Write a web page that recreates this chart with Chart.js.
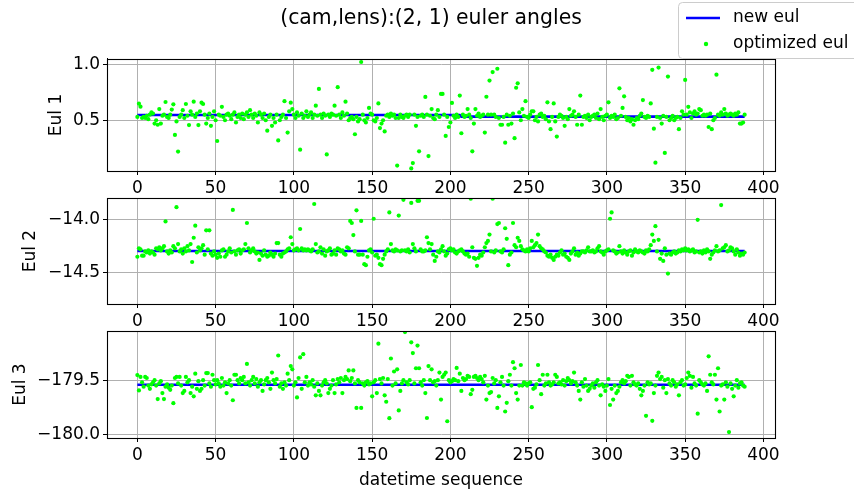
<!DOCTYPE html>
<html>
<head>
<meta charset="utf-8">
<script src="https://cdn.jsdelivr.net/npm/chart.js@4.4.1/dist/chart.umd.min.js"></script>
<style>
  html, body { margin: 0; padding: 0; background: #fff; }
  #wrap { position: relative; width: 854px; height: 495px; overflow: hidden; }
  canvas { position: absolute; left: 0; }
</style>
</head>
<body>
<div id="wrap">
  <canvas id="eul1" width="862" height="200" style="top:0px"></canvas>
  <canvas id="eul2" width="854" height="150" style="top:185px"></canvas>
  <canvas id="eul3" width="854" height="177" style="top:318px"></canvas>
</div>
<script>
/* euler angle panels - new vs optimized */
const seqTicks = [0, 50, 100, 150, 200, 250, 300, 350, 400];
const eulNames = ['Eul 1', 'Eul 2', 'Eul 3'];
const eulTicks = [[0.5, 1.0], [-14.5, -14.0], [-180.0, -179.5]];
const eulTickLabels = [['0.5', '1.0'], ['\u221214.5', '\u221214.0'], ['\u2212180.0', '\u2212179.5']];

// new eul (piecewise constant, breakpoints)
const newEulX = [0, 206, 207, 388];
const newEul1 = [0.547, 0.547, 0.532, 0.532];
const newEul2 = [-14.295, -14.295, -14.295, -14.295];
const newEul3 = [-179.542, -179.542, -179.542, -179.542];

// optimized eul, one value per sequence index 0..388
const optEul1 = [
  0.53, 0.648, 0.621, 0.52, 0.53, 0.52, 0.54, 0.51, 0.55, 0.57,
  0.56, 0.47, 0.50, 0.46, 0.60, 0.47, 0.54, 0.55, 0.663, 0.53,
  0.52, 0.55, 0.595, 0.642, 0.369, 0.49, 0.22, 0.53, 0.55, 0.59,
  0.52, 0.645, 0.54, 0.457, 0.58, 0.55, 0.666, 0.53, 0.56, 0.457,
  0.58, 0.657, 0.645, 0.55, 0.47, 0.52, 0.56, 0.45, 0.53, 0.58,
  0.50, 0.315, 0.55, 0.54, 0.62, 0.53, 0.50, 0.55, 0.56, 0.54,
  0.51, 0.55, 0.57, 0.48, 0.53, 0.55, 0.52, 0.56, 0.51, 0.55,
  0.57, 0.53, 0.59, 0.55, 0.52, 0.56, 0.54, 0.48, 0.57, 0.55,
  0.52, 0.56, 0.50, 0.407, 0.53, 0.55, 0.45, 0.52, 0.48, 0.55,
  0.32, 0.50, 0.53, 0.55, 0.67, 0.52, 0.39, 0.58, 0.657, 0.60,
  0.55, 0.52, 0.57, 0.54, 0.237, 0.56, 0.52, 0.54, 0.58, 0.53,
  0.55, 0.57, 0.52, 0.55, 0.63, 0.54, 0.78, 0.55, 0.52, 0.56,
  0.54, 0.195, 0.55, 0.53, 0.56, 0.55, 0.63, 0.54, 0.795, 0.55,
  0.52, 0.57, 0.54, 0.666, 0.56, 0.50, 0.52, 0.53, 0.51, 0.375,
  0.53, 0.49, 0.51, 1.02, 0.55, 0.50, 0.48, 0.52, 0.61, 0.56,
  0.55, 0.50, 0.49, 0.52, 0.65, 0.43, 0.47, 0.50, 0.40, 0.54,
  0.55, 0.53, 0.56, 0.54, 0.55, 0.52, 0.095, 0.52, 0.55, 0.53,
  0.52, 0.54, 0.55, 0.53, 0.55, 0.07, 0.118, 0.55, 0.45, 0.53,
  0.223, 0.54, 0.55, 0.53, 0.708, 0.55, 0.18, 0.54, 0.60, 0.52,
  0.51, 0.55, 0.59, 0.53, 0.735, 0.735, 0.55, 0.36, 0.53, 0.44,
  0.48, 0.655, 0.54, 0.52, 0.55, 0.53, 0.72, 0.384, 0.55, 0.53,
  0.54, 0.60, 0.55, 0.52, 0.223, 0.47, 0.60, 0.54, 0.56, 0.53,
  0.54, 0.55, 0.39, 0.71, 0.55, 0.854, 0.55, 0.93, 0.55, 0.53,
  0.96, 0.52, 0.46, 0.46, 0.53, 0.30, 0.55, 0.46, 0.54, 0.47,
  0.56, 0.34, 0.79, 0.83, 0.57, 0.50, 0.60, 0.54, 0.67, 0.53,
  0.52, 0.55, 0.58, 0.58, 0.50, 0.53, 0.49, 0.55, 0.56, 0.53,
  0.54, 0.51, 0.66, 0.49, 0.42, 0.53, 0.65, 0.49, 0.354, 0.53,
  0.55, 0.54, 0.52, 0.45, 0.53, 0.51, 0.60, 0.54, 0.55, 0.58,
  0.53, 0.46, 0.55, 0.72, 0.46, 0.53, 0.54, 0.52, 0.55, 0.50,
  0.53, 0.54, 0.55, 0.52, 0.56, 0.51, 0.60, 0.53, 0.50, 0.54,
  0.55, 0.66, 0.52, 0.54, 0.53, 0.55, 0.51, 0.52, 0.785, 0.54,
  0.61, 0.714, 0.53, 0.50, 0.52, 0.49, 0.51, 0.46, 0.50, 0.52,
  0.51, 0.54, 0.56, 0.68, 0.53, 0.52, 0.54, 0.53, 0.65, 0.95,
  0.425, 0.121, 0.53, 0.97, 0.52, 0.47, 0.54, 0.208, 0.53, 0.89,
  0.50, 0.52, 0.54, 0.50, 0.52, 0.53, 0.42, 0.52, 0.58, 0.55,
  0.86, 0.55, 0.62, 0.57, 0.52, 0.56, 0.58, 0.55, 0.56, 0.60,
  0.59, 0.54, 0.55, 0.54, 0.55, 0.44, 0.56, 0.42, 0.50, 0.52,
  0.907, 0.55, 0.54, 0.57, 0.55, 0.60, 0.56, 0.54, 0.55, 0.56,
  0.55, 0.54, 0.56, 0.55, 0.57, 0.47, 0.47, 0.48, 0.55
];
const optEul2 = [
  -14.35, -14.27, -14.28, -14.34, -14.34, -14.30, -14.31, -14.29, -14.32, -14.30,
  -14.31, -14.33, -14.27, -14.28, -14.26, -14.29, -14.27, -14.25, -14.015, -14.30,
  -14.32, -14.29, -14.31, -14.25, -14.27, -13.88, -14.23, -14.30, -14.28, -14.32,
  -14.27, -14.30, -14.25, -14.29, -14.23, -14.40, -14.17, -14.055, -14.31, -14.26,
  -14.29, -14.27, -14.24, -14.33, -14.10, -14.28, -14.10, -14.32, -14.34, -14.30,
  -14.33, -14.36, -14.32, -14.35, -14.29, -14.28, -14.35, -14.33, -14.30, -14.27,
  -14.31, -13.906, -14.30, -14.33, -14.29, -14.28, -14.32, -14.29, -14.28, -14.23,
  -14.03, -14.27, -14.31, -14.29, -14.27, -14.30, -14.32, -14.31, -14.38, -14.32,
  -14.34, -14.29, -14.33, -14.35, -14.34, -14.31, -14.33, -14.35, -14.32, -14.22,
  -14.22, -14.33, -14.35, -14.32, -14.31, -14.30, -14.28, -14.27, -14.165, -14.23,
  -14.29, -14.28, -14.27, -14.29, -14.087, -14.27, -14.29, -14.28, -14.29, -14.28,
  -14.29, -14.30, -14.28, -13.85, -14.23, -14.31, -14.30, -14.26, -14.32, -14.28,
  -14.34, -14.30, -14.29, -14.27, -14.33, -14.32, -14.29, -14.33, -14.27, -14.28,
  -14.30, -14.29, -14.32, -14.33, -14.26, -14.27, -14.01, -14.03, -14.145, -14.30,
  -13.91, -14.33, -14.33, -14.01, -14.33, -14.42, -14.43, -14.35, -14.29, -14.28,
  -14.31, -13.99, -14.34, -14.33, -14.36, -14.42, -14.43, -14.37, -14.33, -14.30,
  -14.28, -13.93, -14.23, -14.29, -14.30, -14.28, -14.29, -13.96, -14.30, -14.29,
  -13.81, -14.29, -14.30, -14.28, -14.31, -13.84, -14.23, -14.27, -14.30, -13.82,
  -13.82, -14.28, -14.30, -14.30, -14.29, -14.165, -14.22, -14.28, -14.23, -14.33,
  -14.39, -14.35, -14.30, -14.31, -14.28, -14.25, -14.30, -14.34, -14.32, -14.28,
  -14.27, -14.29, -14.28, -14.31, -14.32, -14.30, -14.29, -14.28, -14.30, -14.32,
  -14.33, -14.32, -14.35, -13.80, -14.26, -14.36, -14.37, -14.436, -14.36, -14.33,
  -14.34, -14.31, -14.26, -14.22, -14.20, -14.14, -14.30, -13.80, -14.31, -14.29,
  -14.04, -14.03, -14.30, -14.31, -14.28, -14.08, -14.18, -14.43, -14.33, -14.31,
  -14.03, -14.24, -14.26, -14.17, -14.20, -14.25, -14.28, -14.29, -14.30, -14.28,
  -14.30, -14.27, -14.20, -14.26, -14.24, -14.22, -14.14, -14.25, -14.27, -14.28,
  -14.30, -14.31, -14.34, -14.35, -14.33, -14.36, -14.38, -14.35, -14.33, -14.34,
  -14.31, -14.29, -14.33, -14.32, -14.35, -14.36, -14.38, -14.32, -14.30, -14.27,
  -14.33, -14.31, -14.34, -14.32, -14.30, -14.30, -14.31, -14.29, -14.26, -14.30,
  -14.30, -14.29, -14.31, -14.30, -14.27, -14.25, -14.30, -14.31, -14.33, -14.30,
  -14.29, -14.28, -13.99, -13.93, -14.29, -14.30, -14.32, -14.31, -14.25, -14.30,
  -14.32, -14.29, -14.31, -14.33, -14.30, -14.29, -14.34, -14.31, -14.28, -14.30,
  -14.31, -14.29, -14.30, -14.31, -14.32, -14.29, -14.30, -14.28, -14.24, -14.14,
  -14.20, -14.06, -14.30, -14.19, -14.37, -14.32, -14.39, -14.27, -14.33, -14.51,
  -14.32, -14.33, -14.31, -14.30, -14.32, -14.31, -14.29, -14.30, -14.28, -14.29,
  -14.27, -14.29, -14.28, -14.30, -14.29, -14.28, -14.31, -14.30, -14.00, -14.31,
  -14.30, -14.32, -14.29, -14.31, -14.28, -14.30, -14.37, -14.33, -14.31, -14.29,
  -14.25, -14.30, -14.29, -13.86, -14.27, -14.26, -14.24, -14.30, -14.29, -14.26,
  -14.27, -14.30, -14.33, -14.28, -14.31, -14.34, -14.32, -14.33, -14.31
];
const optEul3 = [
  -179.453, -179.595, -179.47, -179.52, -179.56, -179.47, -179.48, -179.55, -179.58, -179.54,
  -179.52, -179.50, -179.55, -179.675, -179.53, -179.51, -179.62, -179.675, -179.56, -179.54,
  -179.57, -179.59, -179.55, -179.713, -179.48, -179.47, -179.53, -179.47, -179.55, -179.62,
  -179.60, -179.47, -179.52, -179.50, -179.62, -179.56, -179.65, -179.44, -179.58, -179.51,
  -179.60, -179.58, -179.50, -179.55, -179.435, -179.435, -179.53, -179.56, -179.45, -179.50,
  -179.54, -179.50, -179.53, -179.56, -179.48, -179.55, -179.52, -179.62, -179.53, -179.50,
  -179.55, -179.686, -179.45, -179.45, -179.50, -179.53, -179.48, -179.50, -179.47, -179.53,
  -179.35, -179.52, -179.55, -179.50, -179.47, -179.53, -179.49, -179.56, -179.52, -179.50,
  -179.60, -179.54, -179.50, -179.48, -179.52, -179.58, -179.43, -179.50, -179.53, -179.49,
  -179.272, -179.56, -179.53, -179.58, -179.52, -179.55, -179.44, -179.50, -179.37, -179.40,
  -179.55, -179.52, -179.66, -179.48, -179.29, -179.58, -179.26, -179.52, -179.47, -179.55,
  -179.52, -179.54, -179.50, -179.56, -179.64, -179.53, -179.60, -179.64, -179.55, -179.52,
  -179.50, -179.53, -179.62, -179.58, -179.55, -179.50, -179.62, -179.54, -179.49, -179.52,
  -179.48, -179.62, -179.50, -179.47, -179.49, -179.41, -179.51, -179.48, -179.41, -179.53,
  -179.757, -179.50, -179.52, -179.757, -179.53, -179.55, -179.52, -179.51, -179.54, -179.53,
  -179.65, -179.52, -179.50, -179.62, -179.163, -179.49, -179.53, -179.48, -179.64, -179.70,
  -179.49, -179.852, -179.30, -179.55, -179.42, -179.53, -179.40, -179.78, -179.60, -179.53,
  -179.50, -179.056, -179.52, -179.54, -179.50, -179.15, -179.25, -179.53, -179.39, -179.18,
  -179.39, -179.52, -179.55, -179.50, -179.62, -179.85, -179.37, -179.50, -179.40, -179.52,
  -179.51, -179.55, -179.50, -179.43, -179.68, -179.47, -179.45, -179.43, -179.88, -179.50,
  -179.52, -179.51, -179.49, -179.50, -179.387, -179.51, -179.44, -179.60, -179.48, -179.50,
  -179.49, -179.46, -179.47, -179.63, -179.59, -179.47, -179.46, -179.48, -179.50, -179.47,
  -179.49, -179.52, -179.46, -179.68, -179.55, -179.62, -179.61, -179.48, -179.53, -179.50,
  -179.757, -179.65, -179.52, -179.47, -179.55, -179.79, -179.71, -179.51, -179.45, -179.55,
  -179.334, -179.39, -179.62, -179.68, -179.55, -179.36, -179.55, -179.52, -179.53, -179.55,
  -179.53, -179.52, -179.75, -179.58, -179.57, -179.54, -179.36, -179.50, -179.63, -179.45,
  -179.55, -179.53, -179.45, -179.52, -179.55, -179.54, -179.52, -179.45, -179.47, -179.53,
  -179.52, -179.54, -179.50, -179.55, -179.51, -179.48, -179.50, -179.53, -179.51, -179.43,
  -179.52, -179.55, -179.60, -179.68, -179.52, -179.56, -179.49, -179.55, -179.60, -179.58,
  -179.55, -179.53, -179.57, -179.52, -179.50, -179.55, -179.64, -179.54, -179.56, -179.60,
  -179.55, -179.49, -179.73, -179.58, -179.68, -179.55, -179.62, -179.60, -179.56, -179.52,
  -179.50, -179.53, -179.51, -179.46, -179.47, -179.55, -179.46, -179.52, -179.54, -179.55,
  -179.53, -179.58, -179.64, -179.60, -179.55, -179.83, -179.52, -179.54, -179.53, -179.876,
  -179.62, -179.55, -179.46, -179.43, -179.49, -179.47, -179.57, -179.50, -179.62, -179.49,
  -179.53, -179.55, -179.50, -179.52, -179.56, -179.54, -179.64, -179.52, -179.50, -179.55,
  -179.54, -179.48, -179.43, -179.46, -179.57, -179.47, -179.53, -179.55, -179.81, -179.50,
  -179.52, -179.54, -179.55, -179.53, -179.60, -179.28, -179.45, -179.52, -179.54, -179.45,
  -179.68, -179.39, -179.79, -179.55, -179.54, -179.68, -179.52, -179.56, -179.98, -179.53,
  -179.58, -179.65, -179.55, -179.50, -179.57, -179.53, -179.52, -179.55, -179.56
];

const newEul = [newEul1, newEul2, newEul3];
const optEul = [optEul1, optEul2, optEul3];

Chart.defaults.font.family = 'DejaVu Sans';
Chart.defaults.font.size = 17;
Chart.defaults.color = '#000';

const tickFont = { family: 'DejaVu Sans', size: 17 };

// white plot background + black frame like matplotlib axes
const axesBox = {
    id: 'axesBox',
    beforeDraw: (chart) => {
        const a = chart.chartArea, ctx = chart.ctx;
        ctx.save();
        ctx.fillStyle = '#fff';
        ctx.fillRect(a.left, a.top, a.right - a.left, a.bottom - a.top);
        ctx.restore();
    },
    afterDraw: (chart) => {
        const a = chart.chartArea, ctx = chart.ctx;
        ctx.save();
        ctx.strokeStyle = '#000';
        ctx.lineWidth = 1.1;
        ctx.strokeRect(Math.round(a.left) + 0.5, Math.round(a.top) + 0.5,
            Math.round(a.right - a.left), Math.round(a.bottom - a.top));
        ctx.restore();
    }
};

// figure legend at top right (drawn on first panel)
const figLegend = {
    id: 'figLegend',
    afterDraw: (chart) => {
        const ctx = chart.ctx;
        const ds = chart.data.datasets;
        ctx.save();
        ctx.beginPath();
        ctx.roundRect(678.5, 2.5, 190, 56, 4);
        ctx.fillStyle = 'rgba(255,255,255,0.8)';
        ctx.fill();
        ctx.strokeStyle = '#cccccc';
        ctx.lineWidth = 1;
        ctx.stroke();

        ctx.font = '17px "DejaVu Sans"';
        ctx.textBaseline = 'middle';
        ctx.fillStyle = '#000';
        // line entry
        ctx.beginPath();
        ctx.moveTo(686, 18);
        ctx.lineTo(720, 18);
        ctx.strokeStyle = ds[0].borderColor;
        ctx.lineWidth = 2.6;
        ctx.stroke();
        ctx.fillText(ds[0].label, 733, 18);
        // marker entry
        ctx.beginPath();
        ctx.arc(706, 44, 2.2, 0, Math.PI * 2);
        ctx.fillStyle = ds[1].backgroundColor;
        ctx.fill();
        ctx.fillStyle = '#000';
        ctx.fillText(ds[1].label, 733, 44);
        ctx.restore();
    }
};

function makePanel(canvasId, k, cfg) {
    const ctx = document.getElementById(canvasId).getContext('2d');
    const scales = {
        x: {
            type: 'linear',
            min: -19.4,
            max: 407.4,
            afterBuildTicks: (s) => { s.ticks = seqTicks.map(v => ({ value: v })); },
            afterFit: (s) => { s.height = cfg.xHeight; },
            ticks: { font: tickFont, color: '#000', padding: 3, maxRotation: 0, autoSkip: false,
                     callback: (v) => String(v) },
            grid: { color: '#b0b0b0', lineWidth: 1, tickColor: '#000', tickLength: 4 },
            border: { color: '#000', width: 1 },
            title: cfg.xTitle ? {
                display: true, text: cfg.xTitle, font: { family: 'DejaVu Sans', size: 17 },
                color: '#000', padding: { top: 0, bottom: 3.8 }
            } : { display: false }
        },
        y: {
            type: 'linear',
            min: cfg.yMin,
            max: cfg.yMax,
            afterBuildTicks: (s) => { s.ticks = eulTicks[k].map(v => ({ value: v })); },
            afterFit: (s) => { s.width = 107; },
            ticks: { font: tickFont, color: '#000', padding: 3, autoSkip: false,
                     callback: (v, i) => eulTickLabels[k][i] },
            grid: { color: '#b0b0b0', lineWidth: 1, tickColor: '#000', tickLength: 4 },
            border: { color: '#000', width: 1 },
            title: {
                display: true, text: eulNames[k], font: { family: 'DejaVu Sans', size: 17 },
                color: '#000', padding: { top: cfg.yTitlePad, bottom: 0 }
            }
        }
    };
    if (cfg.rightGap) {
        // empty right-hand strip so the figure title centres on the whole figure
        scales.gap = {
            type: 'linear', position: 'right', display: true,
            grid: { display: false }, border: { display: false }, ticks: { display: false },
            afterFit: (s) => { s.width = cfg.rightGap; }
        };
    }
    return new Chart(ctx, {
        type: 'scatter',
        data: {
            datasets: [{
                label: 'new eul',
                data: newEulX.map((x, i) => ({ x: x, y: newEul[k][i] })),
                showLine: true,
                borderColor: '#0000ff',
                borderWidth: 2.6,
                pointRadius: 0,
                pointHoverRadius: 0,
                tension: 0,
                order: 1
            }, {
                label: 'optimized eul',
                data: optEul[k].map((y, i) => ({ x: i, y: y })),
                backgroundColor: '#00ff00',
                borderWidth: 0,
                pointRadius: 2.1,
                order: 0
            }]
        },
        options: {
            responsive: false,
            animation: false,
            devicePixelRatio: 1,
            layout: { padding: { left: 0, right: cfg.padRight, top: cfg.padTop, bottom: 0 } },
            plugins: {
                legend: { display: false },
                tooltip: { enabled: false },
                title: cfg.title ? {
                    display: true,
                    text: cfg.title,
                    font: { family: 'DejaVu Sans', size: 20.4, weight: 'normal' },
                    color: '#000',
                    padding: { top: 6, bottom: 28.5 }
                } : { display: false }
            },
            scales: scales
        },
        plugins: cfg.legend ? [axesBox, figLegend] : [axesBox]
    });
}

makePanel('eul1', 0, { padTop: 0, padRight: 0, rightGap: 87, xHeight: 29, yMin: 0.047, yMax: 1.047,
    yTitlePad: 46.8, title: '(cam,lens):(2, 1) euler angles', legend: true });
makePanel('eul2', 1, { padTop: 8, padRight: 79, xHeight: 31, yMin: -14.798, yMax: -13.795, yTitlePad: 20.8 });
makePanel('eul3', 2, { padTop: 9, padRight: 79, xHeight: 57, yMin: -180.035, yMax: -179.0475, yTitlePad: 10.8,
    xTitle: 'datetime sequence' });
</script>
</body>
</html>
